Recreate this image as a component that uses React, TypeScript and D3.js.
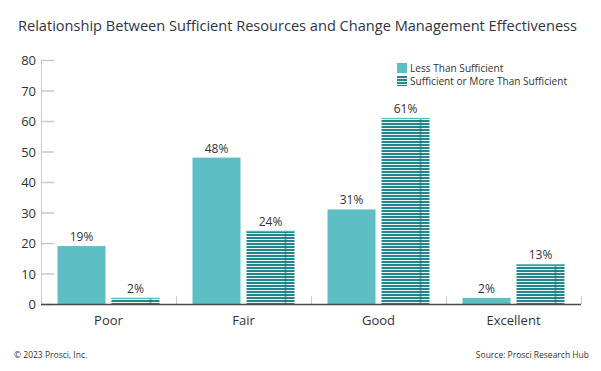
import React from 'react';
import * as d3 from 'd3';

const categories = ['Poor', 'Fair', 'Good', 'Excellent'];
const seriesNames = ['Less Than Sufficient', 'Sufficient or More Than Sufficient'];
const lessThan = [19, 48, 31, 2];
const sufficient = [2, 24, 61, 13];
const yTicks = [0, 10, 20, 30, 40, 50, 60, 70, 80];

const W = 601;
const H = 371;
const FONT = "'Open Sans', sans-serif";
const LIGHT = '#5dbfc4';
const DARK = '#23868c';

export default function App() {
  const x0 = d3.scaleBand<string>().domain(categories).range([41, 581]);
  const x1 = d3.scaleBand<string>()
    .domain(seriesNames)
    .range([16.5, x0.bandwidth() - 16.5])
    .paddingInner(6 / 54);
  const y = d3.scaleLinear().domain([0, 80]).range([304, 60]);

  const rows = categories.map((c, i) => ({ c, vals: [lessThan[i], sufficient[i]] }));

  return (
    <svg width={W} height={H} style={{ position: 'absolute', left: 0, top: 0, background: '#fff' }}
      fontFamily={FONT}>
      <defs>
        <pattern id="stripes" patternUnits="userSpaceOnUse" x={0} y={0} width={144.5} height={3}>
          <rect width={144.5} height={3} fill="#e9f6f6" />
          <rect y={0} width={144.5} height={2} fill={DARK} />
          <rect x={109} width={1} height={3} fill="#176e74" />
        </pattern>
      </defs>

      <text x={18} y={31} fontSize={14.6} fill="#30353f" fontWeight={500}
        textLength={559} lengthAdjust="spacingAndGlyphs">
        Relationship Between Sufficient Resources and Change Management Effectiveness
      </text>

      {/* y axis */}
      <line x1={41.5} x2={41.5} y1={y(80)} y2={y(0)} stroke="#c8c8c8" />
      {yTicks.map(t => (
        <g key={t}>
          <line x1={41} x2={54} y1={y(t) + 0.5} y2={y(t) + 0.5} stroke="#c8c8c8" strokeWidth={1.5} />
          <text x={36} y={y(t) + 5} textAnchor="end" fontSize={13} fill="#333">{t}</text>
        </g>
      ))}

      {/* bars */}
      {rows.map(r => (
        <g key={r.c} transform={`translate(${x0(r.c)},0)`}>
          {r.vals.map((v, j) => {
            const bx = x1(seriesNames[j])!;
            return (
              <g key={j}>
                <rect x={bx} y={y(v)} width={x1.bandwidth()} height={y(0) - y(v)}
                  fill={j === 0 ? LIGHT : 'url(#stripes)'} />
                {j === 1 && <rect x={bx} y={y(v)} width={x1.bandwidth()} height={1} fill={LIGHT} />}
                <text x={bx + x1.bandwidth() / 2} y={y(v) - 5} textAnchor="middle" fontSize={12} fill="#333">
                  {v}%
                </text>
              </g>
            );
          })}
          <text x={x0.bandwidth() / 2} y={325} textAnchor="middle" fontSize={13} fill="#333">{r.c}</text>
        </g>
      ))}

      {/* x axis */}
      {categories.map(c => (
        <line key={c} x1={x0(c)! + x0.bandwidth() + 0.5} x2={x0(c)! + x0.bandwidth() + 0.5}
          y1={296} y2={304} stroke="#c8c8c8" />
      ))}
      <line x1={41} x2={581} y1={304.5} y2={304.5} stroke="#4a4a4a" strokeWidth={1.3} />

      {/* legend */}
      {seriesNames.map((s, i) => (
        <g key={s} transform={`translate(397,${63 + i * 13})`}>
          <rect width={10} height={10} fill={i === 0 ? LIGHT : 'url(#stripes)'} />
          <text x={13} y={9} fontSize={10.1} fill="#333">{s}</text>
        </g>
      ))}

      <text x={14} y={358} fontSize={8.5} fill="#333">© 2023 Prosci, Inc.</text>
      <text x={589} y={358} fontSize={8.5} fill="#333" textAnchor="end">Source: Prosci Research Hub</text>
    </svg>
  );
}
